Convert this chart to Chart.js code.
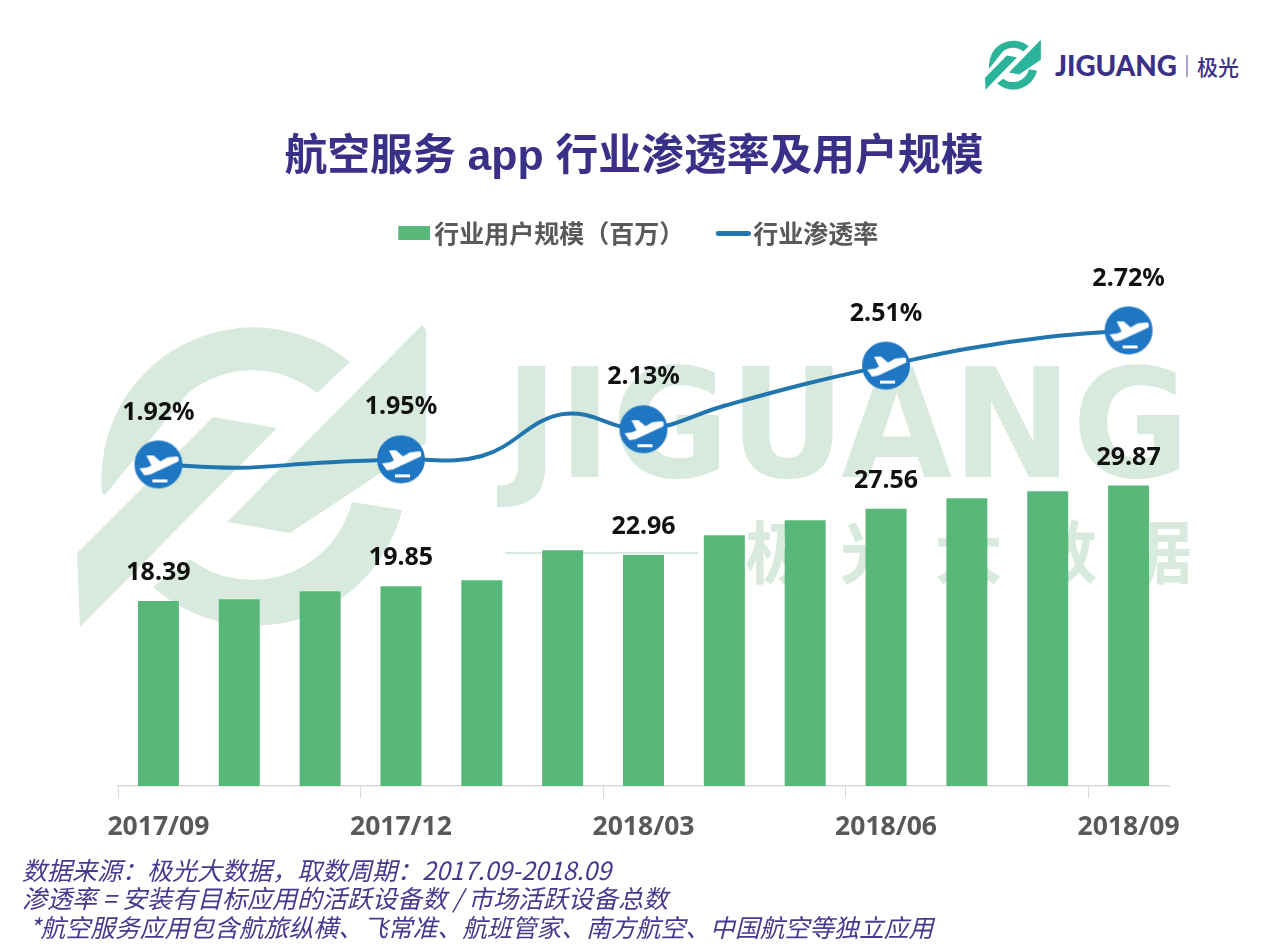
<!DOCTYPE html>
<html>
<head>
<meta charset="utf-8">
<title>航空服务 app 行业渗透率及用户规模</title>
<script src="https://cdn.jsdelivr.net/npm/chart.js@4"></script>
<style>
	html, body { margin: 0; padding: 0; background: #fff; }
	#page { position: relative; width: 1268px; height: 951px; overflow: hidden; }
	#backdrop, #chart { position: absolute; left: 0; top: 0; }
	.note {
		position: absolute;
		font: italic 400 25px "Noto Sans CJK SC", sans-serif;
		color: #463a8f;
		line-height: 30px;
		white-space: pre;
	}
</style>
</head>
<body>
<div id="page">
	<svg id="backdrop" width="1268" height="951" xmlns="http://www.w3.org/2000/svg">
		<defs>
			<g id="logoMark">
				<path d="M102,493 A152,152 0 0 1 350,362 L317,393 A103,103 0 0 0 188,393 L105,495 Z"/>
				<path d="M153,587 A152,152 0 0 0 402,510 L352,502 A103,103 0 0 1 190,559 Z"/>
				<path d="M77,553 L213,417 L277,428 L80,627 Z"/>
				<path d="M422,325 L426,330 L426,443 L290,533 L227,522 Z"/>
			</g>
		</defs>
		<!-- big watermark -->
		<use href="#logoMark" fill="#d7eadd"/>
		<text x="505" y="477" font-family="DejaVu Sans" font-weight="700" font-size="151" fill="#d7eadd" textLength="685" lengthAdjust="spacingAndGlyphs">JIGUANG</text>
		<text x="745" y="578" font-family="Noto Sans CJK SC" font-weight="700" font-size="68" fill="#d7eadd" textLength="447">极光大数据</text>
		<line x1="505" y1="553" x2="698" y2="553" stroke="#d7eadd" stroke-width="2"/>
		<!-- top right logo -->
		<use href="#logoMark" fill="#2cb49b" transform="translate(972.7,-13) scale(0.16,0.164)"/>
		<text x="1055" y="76" font-family="Lato" font-weight="900" font-size="28" fill="#3b3088" textLength="122" lengthAdjust="spacingAndGlyphs">JIGUANG</text>
		<line x1="1187" y1="55" x2="1187" y2="77" stroke="#8d88b5" stroke-width="1.5"/>
		<text x="1197" y="75" font-family="Noto Sans CJK SC" font-weight="500" font-size="21" fill="#3b3088">极光</text>
	</svg>
	<canvas id="chart" width="1268" height="951"></canvas>
	<div class="note" style="left:22px;top:854px">数据来源：极光大数据，取数周期：2017.09-2018.09</div>
	<div class="note" style="left:22px;top:882px">渗透率 = 安装有目标应用的活跃设备数 / 市场活跃设备总数</div>
	<div class="note" style="left:29px;top:911px;font-size:24.8px">*航空服务应用包含航旅纵横、飞常准、航班管家、南方航空、中国航空等独立应用</div>
</div>
<script>
var months = ['2017/09','2017/10','2017/11','2017/12','2018/01','2018/02','2018/03','2018/04','2018/05','2018/06','2018/07','2018/08','2018/09'];
var userScale = [18.39, 18.57, 19.36, 19.85, 20.46, 23.44, 22.96, 24.93, 26.41, 27.56, 28.6, 29.3, 29.87];
var penetration = [1.92, 1.90, 1.93, 1.95, 1.97, 2.22, 2.13, 2.27, 2.40, 2.51, 2.61, 2.68, 2.72];
var userLabels = ['18.39', null, null, '19.85', null, null, '22.96', null, null, '27.56', null, null, '29.87'];
var rateLabels = ['1.92%', null, null, '1.95%', null, null, '2.13%', null, null, '2.51%', null, null, '2.72%'];

var BAR_COLOR = '#58b87a';
var LINE_COLOR = '#2176b0';
var FONT = '"Noto Sans", "Noto Sans CJK SC", sans-serif';

// round plane badge used as the point style
function makePlaneIcon() {
	var c = document.createElement('canvas');
	c.width = 52;
	c.height = 52;
	var g = c.getContext('2d');
	g.translate(26, 26);
	g.fillStyle = '#1f77c4';
	g.beginPath();
	g.arc(0, 0, 24, 0, Math.PI * 2);
	g.fill();
	g.fillStyle = '#fff';
	g.beginPath();
	g.moveTo(18, -8);
	g.lineTo(9, -7);
	g.lineTo(2, -3);
	g.lineTo(-5, -9);
	g.lineTo(-12, -9);
	g.lineTo(-7, 1);
	g.lineTo(-11, 3);
	g.lineTo(-19, 4);
	g.lineTo(-14, 11);
	g.lineTo(-8, 10);
	g.lineTo(20, -3);
	g.quadraticCurveTo(21, -8, 18, -8);
	g.fill();
	g.fillRect(-6, 15, 15, 3);
	return c;
}

// legend swatch, pushed right inside its canvas so it sits close to the text
function makeLegendSwatch(w, h, color, radius) {
	var pad = 17;
	var c = document.createElement('canvas');
	c.width = w + pad;
	c.height = h;
	var g = c.getContext('2d');
	g.fillStyle = color;
	g.beginPath();
	g.roundRect(pad, 0, w, h, radius);
	g.fill();
	return c;
}

var planeIcon = makePlaneIcon();
var barSwatch = makeLegendSwatch(32, 14, BAR_COLOR, 0);
var lineSwatch = makeLegendSwatch(35, 5, LINE_COLOR, 2.5);

// value labels, only the quarterly ones are printed
var valueLabels = {
	id: 'valueLabels',
	afterDatasetsDraw: function(chart) {
		var ctx = chart.ctx;
		ctx.save();
		ctx.textAlign = 'center';
		ctx.textBaseline = 'middle';
		ctx.font = '700 25px ' + FONT;
		ctx.fillStyle = '#111';
		chart.getDatasetMeta(0).data.forEach(function(el, i) {
			if (userLabels[i]) ctx.fillText(userLabels[i], el.x, el.y - 28);
		});
		chart.getDatasetMeta(1).data.forEach(function(el, i) {
			if (rateLabels[i]) ctx.fillText(rateLabels[i], el.x, el.y - 52);
		});
		ctx.restore();
	}
};

new Chart(document.getElementById('chart'), {
	type: 'bar',
	data: {
		labels: months,
		datasets: [{
			label: '行业用户规模（百万）',
			data: userScale,
			backgroundColor: BAR_COLOR,
			barPercentage: 0.507,
			categoryPercentage: 1,
			yAxisID: 'y',
			order: 2
		}, {
			type: 'line',
			label: '行业渗透率',
			data: penetration,
			borderColor: LINE_COLOR,
			borderWidth: 4,
			tension: 0.4,
			pointStyle: planeIcon,
			pointRadius: function(c) { return rateLabels[c.dataIndex] ? 24 : 0; },
			pointHoverRadius: 24,
			yAxisID: 'y1',
			order: 1
		}]
	},
	options: {
		responsive: false,
		animation: false,
		layout: { padding: { left: 99, right: 99, top: 0, bottom: 0 } },
		plugins: {
			title: {
				display: true,
				text: '航空服务 app 行业渗透率及用户规模',
				color: '#3b3088',
				font: { family: '"Liberation Sans", "Noto Sans CJK SC", sans-serif', size: 42.8, weight: '700' },
				padding: { top: 133, bottom: 12 }
			},
			legend: {
				display: true,
				labels: {
					usePointStyle: true,
					pointStyleWidth: 32,
					padding: 24.5,
					color: '#595959',
					font: { family: '"Noto Sans CJK SC", sans-serif', size: 25, weight: '700' },
					generateLabels: function(chart) {
						return [
							{ text: '行业用户规模（百万）', pointStyle: barSwatch, datasetIndex: 0, fontColor: '#595959', lineWidth: 0 },
							{ text: '行业渗透率', pointStyle: lineSwatch, datasetIndex: 1, fontColor: '#595959', lineWidth: 0 }
						];
					}
				}
			},
			tooltip: { enabled: false }
		},
		scales: {
			x: {
				offset: true,
				border: { color: '#d9d9d9', width: 1.5 },
				grid: {
					drawOnChartArea: false,
					tickLength: 12,
					tickColor: function(c) { return c.index % 3 === 0 ? '#d9d9d9' : 'transparent'; }
				},
				ticks: {
					autoSkip: false,
					maxRotation: 0,
					padding: 14,
					color: '#595959',
					font: { family: FONT, size: 26.5, weight: '700' },
					callback: function(v, i) { return i % 3 === 0 ? months[i] : ''; }
				},
				afterFit: function(s) { s.height = 165; }
			},
			y: {
				min: 0,
				max: 52.7,
				border: { display: false },
				grid: { display: false },
				ticks: { display: false },
				afterFit: function(s) { s.width = 19; }
			},
			y1: {
				display: false,
				min: 0,
				max: 3.165
			}
		}
	},
	plugins: [valueLabels]
});
</script>
</body>
</html>
